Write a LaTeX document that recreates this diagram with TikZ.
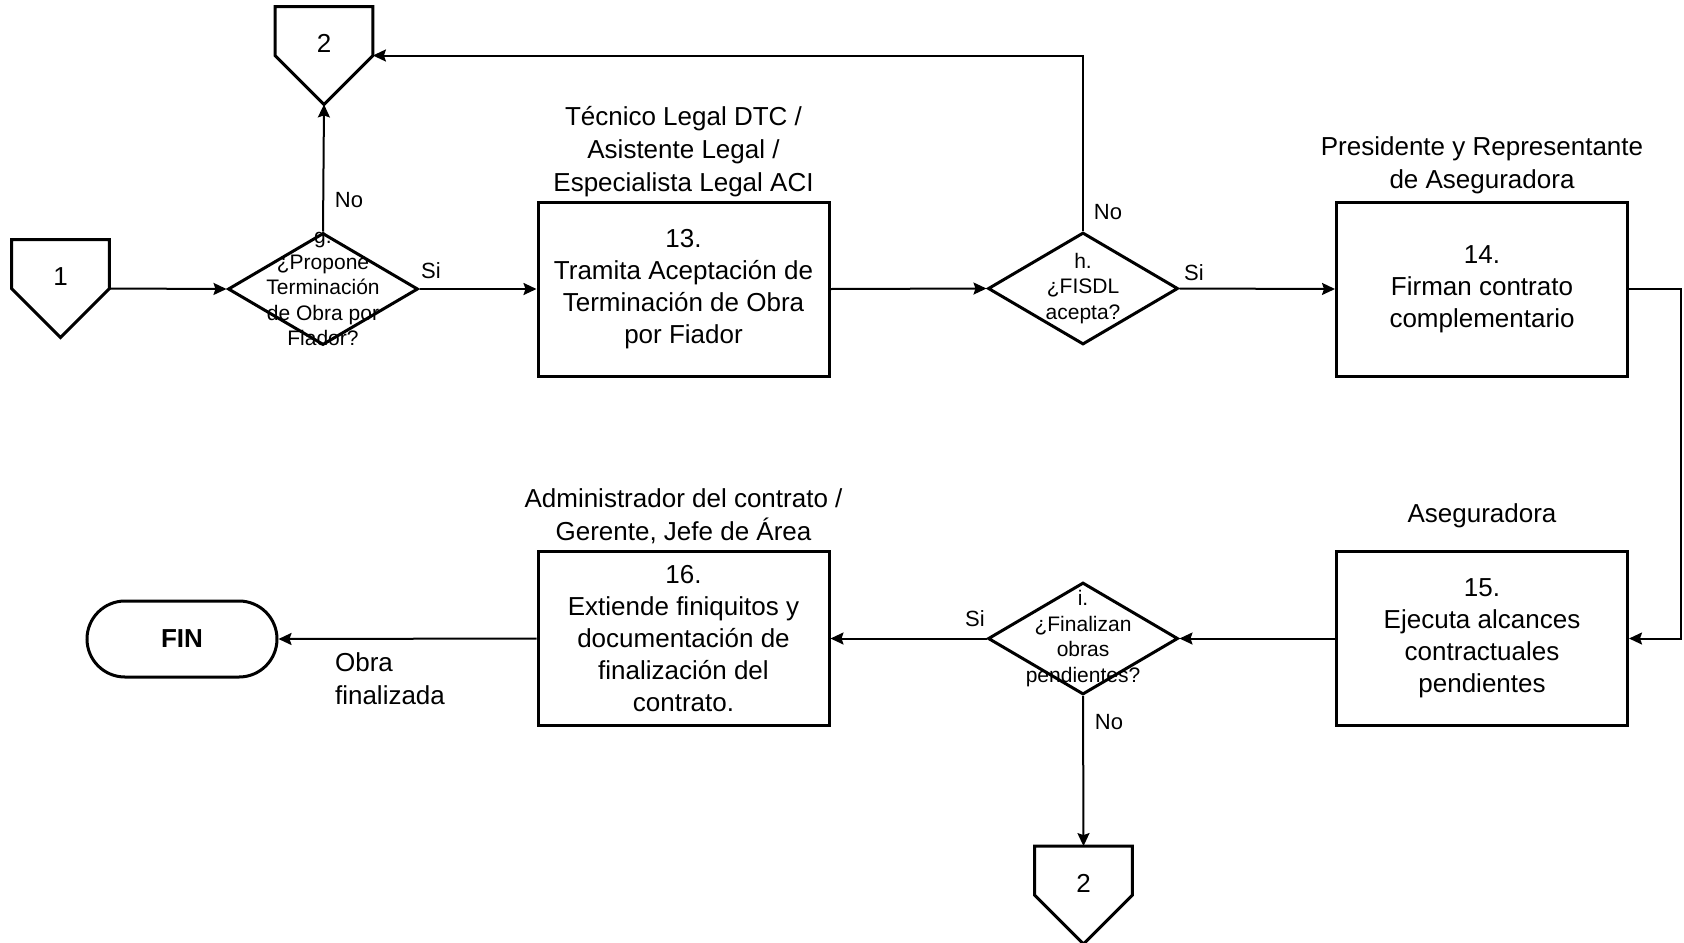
\documentclass[tikz,border=0pt]{standalone}
\usepackage{fontspec}
\setmainfont{Liberation Sans}
\usetikzlibrary{shapes.geometric,arrows.meta}

\tikzset{
  tarea/.style={draw, line width=1.5pt, minimum width=145.5pt, minimum height=87pt,
    inner sep=0pt, align=center, font=\fontsize{13}{16}\selectfont},
  decision/.style={diamond, draw, line width=1.5pt, minimum width=95pt,
    minimum height=56pt, inner sep=0pt},
  dtexto/.style={align=center, font=\fontsize{10.5}{12.75}\selectfont},
  conector/.style={minimum width=48.5pt, minimum height=48.5pt, inner sep=0pt},
  cnum/.style={yshift=6pt, font=\fontsize{13}{15}\selectfont},
  terminal/.style={draw, line width=1.5pt, rounded corners=19pt, minimum width=95pt,
    minimum height=38pt, font=\bfseries\fontsize{13}{16}\selectfont},
  rol/.style={align=center, font=\fontsize{13}{16.5}\selectfont},
  resp/.style={font=\fontsize{11}{13}\selectfont},
  flujo/.style={line width=1pt, -{Stealth[length=6.5pt,width=6pt,inset=1pt]}},
}

\begin{document}
\begin{tikzpicture}[x=0.5pt, y=-0.5pt]
\useasboundingbox (0,0) rectangle (1684,942);

% conectores de pagina
\node[conector, label={[cnum]center:1}] (c1) at (60.5,288.5) {};
\node[conector, label={[cnum]center:2}] (c2a) at (324,55.5) {};
\node[conector, label={[cnum]center:2}] (c2b) at (1083.5,895) {};
\foreach \c in {c1,c2a,c2b} {
    \draw[line width=1.5pt] (\c.north west) -- (\c.north east) -- (\c.east)
        -- (\c.south) -- (\c.west) -- cycle;
}

% decisiones
\node[decision, label={[dtexto]center:{g.\\¿Propone\\Terminación\\de Obra por\\Fiador?}}] (g) at (323,289) {};
\node[decision, label={[dtexto]center:{h.\\¿FISDL\\acepta?}}] (h) at (1083,288.5) {};
\node[decision, label={[dtexto]center:{i.\\¿Finalizan\\obras\\pendientes?}}] (i) at (1083,638.5) {};

% actividades
\node[tarea] (t13) at (683.5,289) {13.\\Tramita Aceptación de\\Terminación de Obra\\por Fiador};
\node[tarea] (t14) at (1482,289) {14.\\Firman contrato\\complementario};
\node[tarea] (t15) at (1482,638.5) {15.\\Ejecuta alcances\\contractuales\\pendientes};
\node[tarea] (t16) at (683.5,638.5) {16.\\Extiende finiquitos y\\documentación de\\finalización del\\contrato.};
\node[terminal] (fin) at (182,639) {FIN};

% responsables
\node[rol] (r13) at (683.5,151.5) {Técnico Legal DTC /\\Asistente Legal /\\Especialista Legal ACI};
\node[rol] (r14) at (1482,165) {Presidente y Representante\\de Aseguradora};
\node[rol] (r15) at (1482,516) {Aseguradora};
\node[rol] (r16) at (683.5,516) {Administrador del contrato /\\Gerente, Jefe de Área};

% respuestas
\node[resp] (gno) at (349,200) {No};
\node[resp] (gsi) at (431,271) {Si};
\node[resp] (hno) at (1108,212) {No};
\node[resp] (hsi) at (1194,273) {Si};
\node[resp] (isi) at (975,619) {Si};
\node[resp] (ino) at (1109,722) {No};
\node[rol, align=left] (obra) at (390,679) {Obra\\finalizada};

% flujo
\draw[flujo] (c1.east) -- (g.west);
\draw[flujo] (g.north) -- (c2a.south);
\draw[flujo] (g.east) -- (t13.west);
\draw[flujo] (t13.east) -- (h.west);
\draw[flujo] (h.north) |- (c2a.east);
\draw[flujo] (h.east) -- (t14.west);
\draw[flujo] (t14.east) -- ++(52,0) |- (t15.east);
\draw[flujo] (t15.west) -- (i.east);
\draw[flujo] (i.west) -- (t16.east);
\draw[flujo] (i.south) -- (c2b.north);
\draw[flujo] (t16.west) -- (fin.east);
\end{tikzpicture}
\end{document}
